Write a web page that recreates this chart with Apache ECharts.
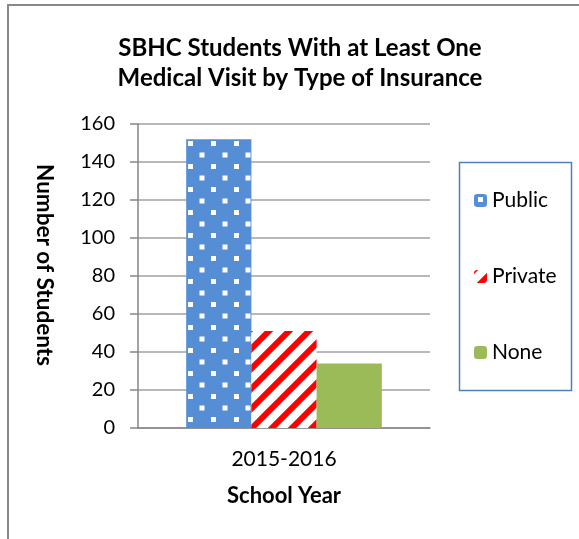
<!DOCTYPE html>
<html>
<head>
<meta charset="utf-8">
<script src="https://cdn.jsdelivr.net/npm/echarts@6/dist/echarts.min.js"></script>
<style>
html,body{margin:0;padding:0;background:#fff;}
#c{width:579px;height:539px;}
</style>
</head>
<body>
<div id="c"></div>
<script>
var categories = ['2015-2016'];
var seriesNames = ['Public', 'Private', 'None'];
var publicValues = [152];
var privateValues = [51];
var noneValues = [34];
var yTicks = [0, 20, 40, 60, 80, 100, 120, 140, 160];

var FONT = 'Lato, "Open Sans", sans-serif';

function dotPattern() {
  var c = document.createElement('canvas');
  c.width = 23; c.height = 23;
  var g = c.getContext('2d');
  g.fillStyle = '#558ED5';
  g.fillRect(0, 0, 23, 23);
  g.fillStyle = '#ffffff';
  g.fillRect(4, 3, 5, 5);
  g.fillRect(15.5, 14.5, 5, 5);
  return c;
}
function stripePattern() {
  var s = 20;
  var c = document.createElement('canvas');
  c.width = s; c.height = s;
  var g = c.getContext('2d');
  g.fillStyle = '#ffffff';
  g.fillRect(0, 0, s, s);
  g.strokeStyle = '#FF0000';
  g.lineWidth = 6;
  [0, s, 2 * s].forEach(function (k) {
    g.beginPath();
    g.moveTo(k - s - 2, s + 2);
    g.lineTo(k + 2, -2);
    g.stroke();
  });
  return c;
}

var chart = echarts.init(document.getElementById('c'));
var option = {
  animation: false,
  backgroundColor: '#fff',
  title: {
    text: 'SBHC Students With at Least One\nMedical Visit by Type of Insurance',
    left: 295, top: 28, textAlign: 'center',
    textStyle: { fontFamily: FONT, fontSize: 24, fontWeight: 'bold', color: '#000', lineHeight: 30 }
  },
  graphic: [
    { type: 'rect', shape: { x: 8, y: 5, width: 700, height: 700 }, style: { fill: 'none', stroke: '#898989', lineWidth: 2 }, silent: true },
    { type: 'rect', shape: { x: 459.5, y: 162.5, width: 112, height: 228 }, style: { fill: 'none', stroke: '#4F81BD', lineWidth: 1.5 }, silent: true, z: 10 },
    { type: 'text', x: 44, y: 265, rotation: -Math.PI / 2,
      style: { text: 'Number of Students', fontFamily: FONT, fontSize: 22.5, fontWeight: 'bold', fill: '#000', align: 'center', verticalAlign: 'middle' } }
  ],
  legend: {
    orient: 'vertical',
    left: 474, top: 190,
    itemWidth: 13, itemHeight: 13, itemGap: 55,
    padding: 0,
    textStyle: { fontFamily: FONT, fontSize: 21, lineHeight: 21, color: '#000' },
    data: seriesNames
  },
  grid: { left: 138, top: 124, right: 149, bottom: 111 },
  xAxis: {
    type: 'category', data: categories,
    axisLine: { lineStyle: { color: '#868686', width: 1.5 } },
    axisTick: { show: false },
    axisLabel: { fontFamily: FONT, fontSize: 21, color: '#000', margin: 21 },
    name: 'School Year', nameLocation: 'middle', nameGap: 57,
    nameTextStyle: { fontFamily: FONT, fontSize: 22, fontWeight: 'bold', color: '#000' }
  },
  yAxis: {
    type: 'value', min: yTicks[0], max: yTicks[yTicks.length - 1], interval: 20,
    axisLine: { show: true, lineStyle: { color: '#868686', width: 1.5 } },
    axisTick: { show: true, length: 8, lineStyle: { color: '#868686', width: 1.5 } },
    splitLine: { lineStyle: { color: '#A0A0A0', width: 1.5 } },
    axisLabel: { fontFamily: FONT, fontSize: 20, color: '#000', margin: 23 }
  },
  series: [
    { name: seriesNames[0], type: 'bar', data: publicValues, barGap: '0%', barCategoryGap: '33%',
      itemStyle: { color: { image: dotPattern(), repeat: 'repeat' } } },
    { name: seriesNames[1], type: 'bar', data: privateValues,
      itemStyle: { color: { image: stripePattern(), repeat: 'repeat' } } },
    { name: seriesNames[2], type: 'bar', data: noneValues,
      itemStyle: { color: '#9BBB59' } }
  ]
};
chart.setOption(option);
</script>
</body>
</html>
